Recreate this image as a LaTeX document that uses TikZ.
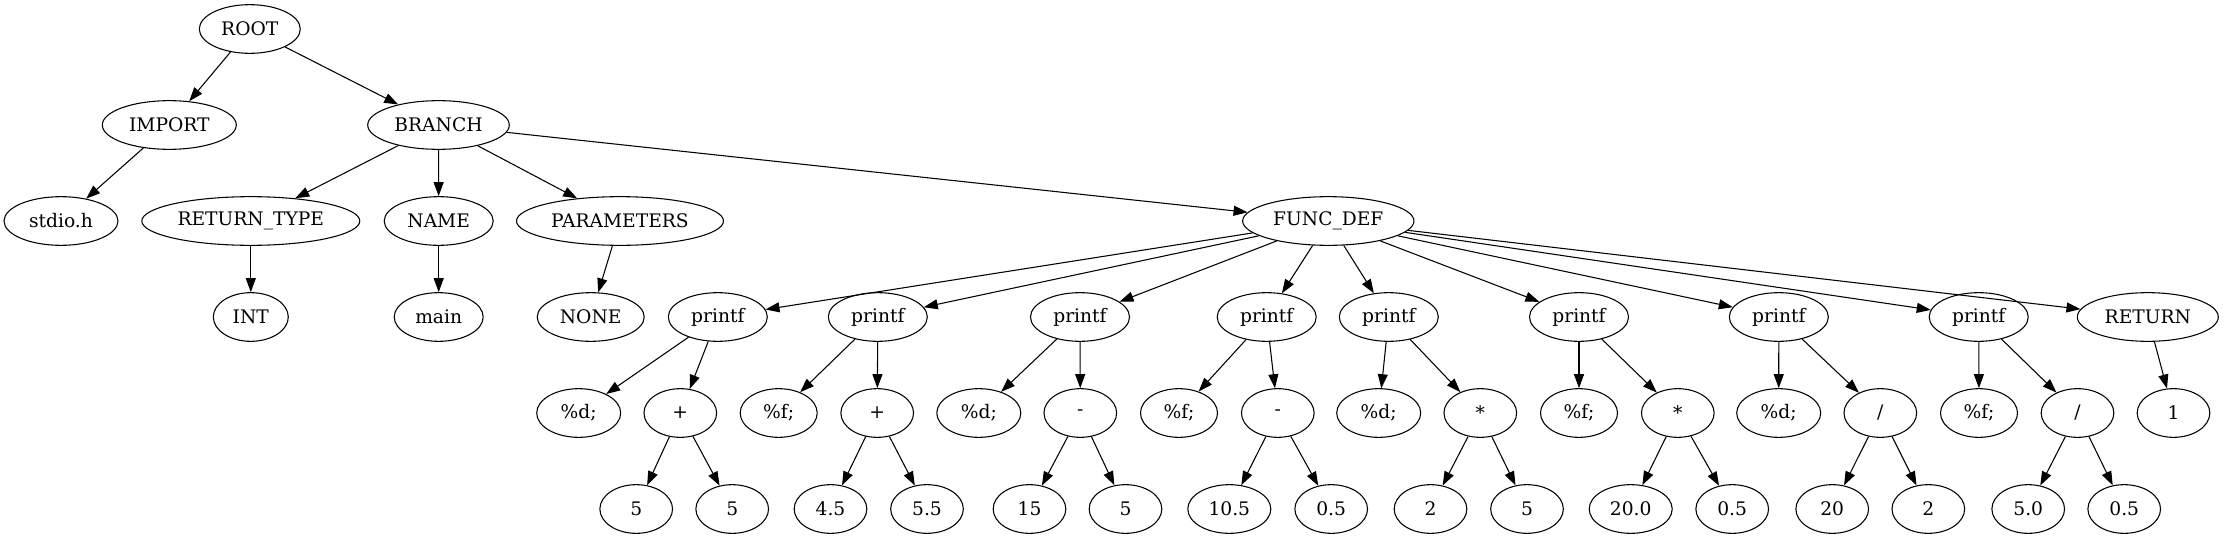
\documentclass[tikz,border=0pt]{standalone}
\usepackage{fontspec}
\setmainfont{DejaVu Serif}
\usetikzlibrary{arrows.meta,shapes.geometric}

\begin{document}
\begin{tikzpicture}[
		x=0.75pt,y=-0.75pt, % <-- 1 unit = 1 pixel of the picture
		nd/.style={draw, ellipse, line width=0.8pt, inner sep=0pt,
			minimum width=54.5pt, minimum height=36.5pt,
			font=\fontsize{14pt}{17pt}\selectfont},
		pf/.style={nd, minimum width=74.25pt},
		fd/.style={nd, minimum width=63pt},
		ff/.style={nd, minimum width=57.75pt},
		arr/.style={line width=0.8pt, -{Triangle[length=10.5pt,width=7.5pt]}}
		]
		\useasboundingbox (0,0) rectangle (2224,539);
		
		% ====== TOP LEVELS ======
		\node[nd, minimum width=75.75pt] (root) at (249.8,29) {ROOT};
		
		\node[nd, minimum width=100.5pt] (imp) at (169.3,125) {IMPORT};
		\node[nd, minimum width=106.2pt] (branch) at (438.5,125) {BRANCH};
		
		\node[nd, minimum width=85.5pt] (stdio) at (61,221) {stdio.h};
		\node[nd, minimum width=163.5pt] (rtype) at (250.8,221) {RETURN\_TYPE};
		\node[nd, minimum width=81.75pt] (name) at (438.7,221) {NAME};
		\node[nd, minimum width=155.25pt] (params) at (620,221) {PARAMETERS};
		\node[nd, minimum width=128.5pt] (fdef) at (1328.3,221) {FUNC\_DEF};
		
		% ====== ROW OF printf ======
		\node[nd, minimum width=56.25pt] (int) at (250.8,317) {INT};
		\node[nd, minimum width=66.75pt] (main) at (438.7,317) {main};
		\node[nd, minimum width=80.25pt] (none) at (590.7,317) {NONE};
		\node[pf] (pf1) at (717.8,317) {printf};
		\node[pf] (pf2) at (877.8,317) {printf};
		\node[pf] (pf3) at (1080,317) {printf};
		\node[pf] (pf4) at (1266.7,317) {printf};
		\node[pf] (pf5) at (1388.8,317) {printf};
		\node[pf] (pf6) at (1579,317) {printf};
		\node[pf] (pf7) at (1778.8,317) {printf};
		\node[pf] (pf8) at (1978.7,317) {printf};
		\node[nd, minimum width=105.75pt] (ret) at (2147.8,317) {RETURN};
		
		% ====== FORMATS AND OPERATORS ======
		\node[fd] (fmt1) at (578.7,413) {\%d;};
		\node[nd] (op1) at (680.3,413) {+};
		\node[ff] (fmt2) at (778.7,413) {\%f;};
		\node[nd] (op2) at (877.2,413) {+};
		\node[fd] (fmt3) at (978.8,413) {\%d;};
		\node[nd] (op3) at (1080.3,413) {-};
		\node[ff] (fmt4) at (1179,413) {\%f;};
		\node[nd] (op4) at (1277.8,413) {-};
		\node[fd] (fmt5) at (1378.7,413) {\%d;};
		\node[nd] (op5) at (1480.3,413) {*};
		\node[ff] (fmt6) at (1579,413) {\%f;};
		\node[nd] (op6) at (1677.8,413) {*};
		\node[fd] (fmt7) at (1778.7,413) {\%d;};
		\node[nd] (op7) at (1880.3,413) {/};
		\node[ff] (fmt8) at (1979,413) {\%f;};
		\node[nd] (op8) at (2077.5,413) {/};
		\node[nd] (one) at (2173.5,413) {1};
		
		% ====== OPERANDS ======
		\node[nd] (a1) at (636.2,509) {5};
		\node[nd] (b1) at (732.2,509) {5};
		\node[nd] (a2) at (830.5,509) {4.5};
		\node[nd] (b2) at (927,509) {5.5};
		\node[nd] (a3) at (1029.5,509) {15};
		\node[nd] (b3) at (1125.5,509) {5};
		\node[nd, minimum width=62.25pt] (a4) at (1229.3,509) {10.5};
		\node[nd] (b4) at (1331.2,509) {0.5};
		\node[nd] (a5) at (1430.5,509) {2};
		\node[nd] (b5) at (1527,509) {5};
		\node[nd, minimum width=62.25pt] (a6) at (1630.7,509) {20.0};
		\node[nd] (b6) at (1732.2,509) {0.5};
		\node[nd] (a7) at (1832.2,509) {20};
		\node[nd] (b7) at (1928.3,509) {2};
		\node[nd] (a8) at (2028.2,509) {5.0};
		\node[nd] (b8) at (2124.2,509) {0.5};
		
		% ====== EDGES ======
		\draw[arr] (root) edge (imp) edge (branch);
		\draw[arr] (imp) -- (stdio);
		\draw[arr] (branch) edge (rtype) edge (name) edge (params) edge (fdef);
		\draw[arr] (rtype) -- (int);
		\draw[arr] (name) -- (main);
		\draw[arr] (params) -- (none);
		\draw[arr] (fdef) edge (pf1) edge (pf2) edge (pf3) edge (pf4)
		edge (pf5) edge (pf6) edge (pf7) edge (pf8) edge (ret);
		\draw[arr] (ret) -- (one);
		
		\draw[arr] (pf1) edge (fmt1) edge (op1);
		\draw[arr] (pf2) edge (fmt2) edge (op2);
		\draw[arr] (pf3) edge (fmt3) edge (op3);
		\draw[arr] (pf4) edge (fmt4) edge (op4);
		\draw[arr] (pf5) edge (fmt5) edge (op5);
		\draw[arr] (pf6) edge (fmt6) edge (op6);
		\draw[arr] (pf7) edge (fmt7) edge (op7);
		\draw[arr] (pf8) edge (fmt8) edge (op8);
		
		\draw[arr] (op1) edge (a1) edge (b1);
		\draw[arr] (op2) edge (a2) edge (b2);
		\draw[arr] (op3) edge (a3) edge (b3);
		\draw[arr] (op4) edge (a4) edge (b4);
		\draw[arr] (op5) edge (a5) edge (b5);
		\draw[arr] (op6) edge (a6) edge (b6);
		\draw[arr] (op7) edge (a7) edge (b7);
		\draw[arr] (op8) edge (a8) edge (b8);
		
\end{tikzpicture}
\end{document}
